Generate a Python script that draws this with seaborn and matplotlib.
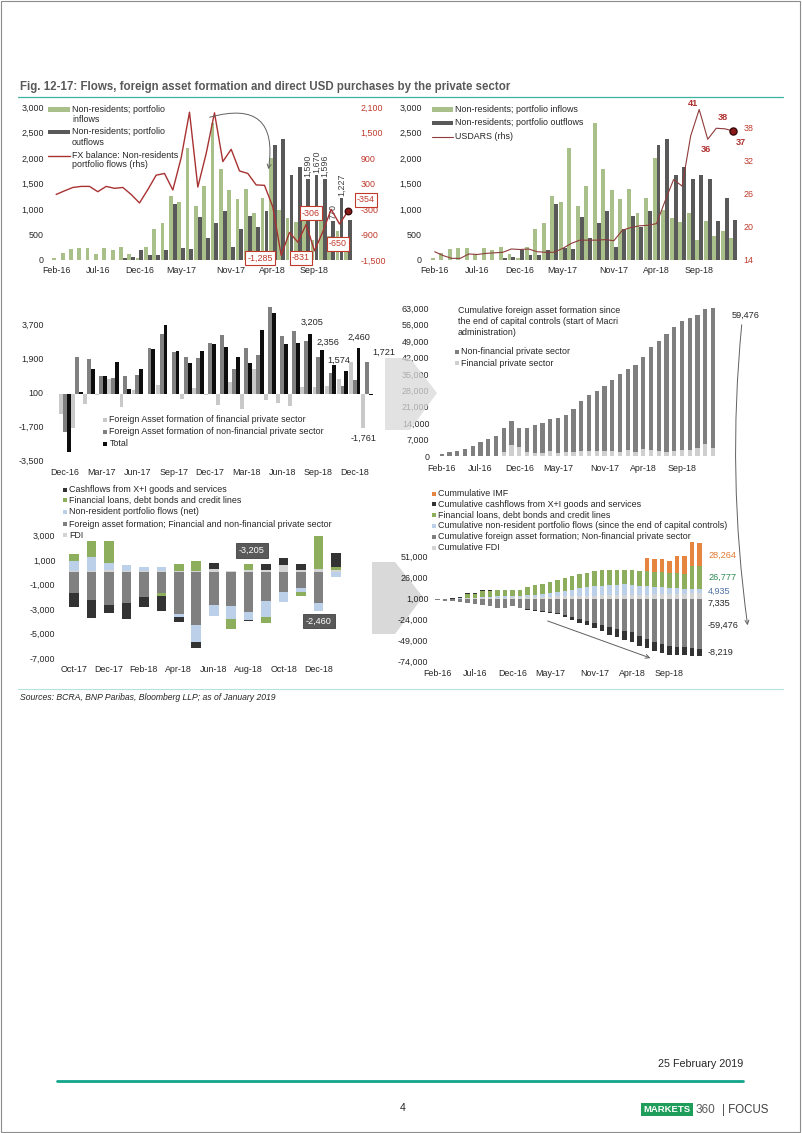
import matplotlib
matplotlib.use("Agg")
import matplotlib.pyplot as plt
import seaborn as sns
import pandas as pd
from matplotlib.patches import Rectangle, Polygon, FancyArrowPatch
from matplotlib.lines import Line2D

# -------------------------------
# DATA
# -------------------------------
months = ["Feb-16", "Mar-16", "Apr-16", "May-16", "Jun-16", "Jul-16", "Aug-16", "Sep-16",
          "Oct-16", "Nov-16", "Dec-16", "Jan-17", "Feb-17", "Mar-17", "Apr-17", "May-17",
          "Jun-17", "Jul-17", "Aug-17", "Sep-17", "Oct-17", "Nov-17", "Dec-17", "Jan-18",
          "Feb-18", "Mar-18", "Apr-18", "May-18", "Jun-18", "Jul-18", "Aug-18", "Sep-18",
          "Oct-18", "Nov-18", "Dec-18", "Jan-19"]
month_ticks = ["Feb-16", "Jul-16", "Dec-16", "May-17", "Nov-17", "Apr-18", "Sep-18"]

inflows = [45, 130, 210, 235, 235, 110, 235, 190, 255, 110, 40, 260, 600, 730, 1250, 1140,
           2200, 1070, 1450, 2690, 1780, 1370, 1200, 1400, 920, 1220, 2000, 980, 820, 750,
           930, 385, 765, 464, 577, 436]
outflows = [0, 0, 0, 0, 0, 0, 0, 0, 45, 65, 195, 100, 100, 190, 1100, 230,
            215, 850, 440, 720, 960, 260, 600, 860, 650, 960, 2250, 2370, 1670, 1830,
            1590, 1670, 1596, 770, 1227, 790]
fx_balance = [45, 130, 210, 235, 235, 110, 235, 190, 210, 45, -155, 160, 500, 540, 150, 910,
              1985, 220, 1010, 1970, 820, 1110, 600, 540, 270, 260, -250, -1390, -850, -1080,
              -660, -1285, -831, -306, -650, -354]
usdars = [15.5, 14.8, 14.3, 14.3, 15.1, 15.0, 15.2, 15.3, 15.4, 16.0, 15.9, 16.0, 15.5, 15.4,
          15.4, 16.1, 17.0, 17.6, 17.6, 17.6, 17.7, 17.5, 19.4, 19.9, 20.2, 20.3, 20.6, 24.7,
          28.6, 27.4, 36.5, 41.3, 35.9, 37.9, 37.8, 37.4]

fa_months = months[10:]
fa_ticks = ["Dec-16", "Mar-17", "Jun-17", "Sep-17", "Dec-17", "Mar-18", "Jun-18", "Sep-18", "Dec-18"]
fa_fin = [-1030, -1790, -530, -30, 830, -680, 250, 0, 500, 0, -250, 330, -50, -550, 630,
          -780, 1350, -290, -430, -600, 380, 380, 420, 800, 1690, -1761]
fa_nonfin = [-1965, 1970, 1865, 980, 860, 980, 1030, 2450, 3190, 2240, 1970, 1920, 2710, 3120,
             1330, 2450, 2060, 4620, 3100, 3330, 2825, 1976, 1154, 450, 770, 1721]
fa_total = [-3060, 130, 1335, 950, 1690, 300, 1350, 2410, 3650, 2290, 1650, 2270, 2640, 2500,
            1960, 1670, 3420, 4300, 2670, 2730, 3205, 2356, 1574, 1250, 2460, -40]

cum_nonfin = [700, 1850, 2300, 3000, 4400, 6000, 7300, 8400, 9900, 10200, 8200, 10100, 12000,
              12950, 13800, 14800, 15800, 18300, 21450, 23700, 25650, 27600, 30300, 33400,
              34750, 37200, 39250, 43900, 47000, 50300, 53150, 55100, 56250, 56700, 57500, 59476]
cum_fin = [0, 0, 0, 0, 0, 0, 0, 0, 1900, 4700, 3650, 1900, 1350, 1300, 2150, 1450, 1700, 1700,
           2200, 2200, 1950, 2300, 2250, 1700, 2350, 1550, 2900, 2600, 2200, 1600, 1950, 2350,
           2750, 3550, 5250, 3500]

e_months = months[20:]
e_ticks = ["Oct-17", "Dec-17", "Feb-18", "Apr-18", "Jun-18", "Aug-18", "Oct-18", "Dec-18"]
e_fdi = [80, 155, 200, 100, 150, 160, 100, 100, 300, 100, 200, 200, 580, 170, 250, 170]
e_faf = [-1650, -2270, -2640, -2500, -1960, -1670, -3420, -4300, -2670, -2730, -3205, -2356,
         -1574, -1250, -2460, 40]
e_nonres = [820, 1110, 600, 540, 270, 260, -250, -1390, -850, -1080, -660, -1285, -831, -306,
            -650, -354]
e_loans = [640, 1275, 1740, 0, 0, -250, 620, 800, 0, -840, 520, -460, 0, -350, 2780, 250]
e_cash = [-1200, -1440, -640, -1270, -850, -1200, -370, -480, 500, 0, -100, 520, 630, 550, 0, 1100]

f_fdi = [200, 400, 600, 800, 1000, 1200, 1450, 1650, 1850, 2050, 2250, 2450, 2650, 2850, 3050,
         3300, 3550, 3800, 4050, 4320, 4400, 4555, 4755, 4855, 5005, 5165, 5265, 5365, 5665,
         5765, 5965, 6165, 6745, 6915, 7165, 7335]
f_faf = [-700, -1850, -2300, -3000, -4400, -6000, -7300, -8400, -9900, -10200, -8200, -10100,
         -12000, -12950, -13800, -14800, -15800, -18300, -21450, -23700, -25650, -27600, -30300,
         -33400, -34750, -37200, -39250, -43900, -47000, -50300, -53150, -55100, -56250, -56700,
         -57500, -59476]
f_nonres = [45, 175, 385, 620, 855, 965, 1200, 1390, 1600, 1645, 1490, 1650, 2150, 2690, 2840,
            3750, 5735, 5955, 6965, 8935, 9755, 10865, 11465, 12005, 12275, 12535, 12285, 10895,
            10045, 8965, 8305, 7020, 6189, 5883, 5233, 4935]
f_loans = [0, 0, 0, 0, 3945, 4435, 7350, 7260, 7350, 7105, 7260, 6900, 9300, 10960, 12210, 13350,
           13915, 15445, 16185, 16300, 17045, 17680, 18080, 17840, 17420, 17400, 16750, 16840,
           17890, 18070, 18530, 17615, 18170, 17500, 27038, 26777]
f_cash = [100, 300, 600, 900, 1500, 1500, 1000, 700, 400, 200, 0, -100, -400, -800, -1100, -1500,
          -2000, -2600, -3300, -3970, -5170, -6610, -7250, -8520, -9370, -10570, -10940, -11420,
          -10920, -10920, -11020, -10500, -9870, -9320, -9320, -8219]
f_imf = [0, 0, 0, 0, 0, 0, 0, 0, 0, 0, 0, 0, 0, 0, 0, 0, 0, 0, 0, 0, 0, 0, 0, 0, 0, 0, 0, 0,
         15000, 15000, 15000, 15000, 20700, 20700, 28264, 28264]

# colours
GREEN_BAR = "#a9c08b"
DARK_BAR = "#595959"
FX_RED = "#a83232"
AX_RED = "#c0392b"
USD_LINE = "#8e3b3b"
TXT = "#262626"
C_FIN, C_NONFIN, C_TOTAL = "#c9c9c9", "#808080", "#0d0d0d"
CASH, LOANS, NONRES, FAF, FDI, IMF = "#333333", "#8cae5d", "#bcd0ea", "#808080", "#d4d4d4", "#e68540"
FS = 6.4

# -------------------------------
# PAGE SETUP
# -------------------------------
sns.set_theme(style="white")
plt.rcParams["font.family"] = ["Liberation Sans", "DejaVu Sans"]

W, H = 802, 1133
fig = plt.figure(figsize=(W / 100, H / 100), dpi=100)
fig.patch.set_facecolor("white")


def add_panel(x0, x1, y0, y1):
    ax = fig.add_axes([x0 / W, 1 - y1 / H, (x1 - x0) / W, (y1 - y0) / H])
    ax.set_facecolor("none")
    return ax


def ftext(x, y, s, **kw):
    kw.setdefault("fontsize", FS)
    kw.setdefault("va", "center")
    kw.setdefault("color", TXT)
    return fig.text(x / W, 1 - y / H, s, **kw)


def fbox(x0, y0, x1, y1, color, **kw):
    fig.patches.append(Rectangle((x0 / W, 1 - y1 / H), (x1 - x0) / W, (y1 - y0) / H,
                                 transform=fig.transFigure, facecolor=color,
                                 edgecolor="none", **kw))


def fline(x0, y0, x1, y1, color, lw=0.8, **kw):
    fig.lines.append(Line2D([x0 / W, x1 / W], [1 - y0 / H, 1 - y1 / H],
                            transform=fig.transFigure, color=color, lw=lw, **kw))


def farrow(x0, y0, x1, y1, rad=0.0, color="#606060", lw=0.7):
    fig.patches.append(FancyArrowPatch((x0 / W, 1 - y0 / H), (x1 / W, 1 - y1 / H),
                                       transform=fig.transFigure, arrowstyle="->",
                                       connectionstyle=f"arc3,rad={rad}", mutation_scale=7,
                                       color=color, lw=lw))


def style_axis(ax, xpad=4, ypad=5):
    sns.despine(ax=ax, left=True, bottom=True, right=True, top=True)
    ax.tick_params(axis="both", length=0, labelsize=FS, colors=TXT)
    ax.tick_params(axis="x", pad=xpad)
    ax.tick_params(axis="y", pad=ypad)
    ax.set_xlabel("")
    ax.set_ylabel("")


def fmt(v):
    return f"{v:,}"


def stacked(ax, series, colors, width):
    n = len(series[0])
    pos = [0] * n
    neg = [0] * n
    for vals, col in zip(series, colors):
        bottoms = [pos[i] if v >= 0 else neg[i] for i, v in enumerate(vals)]
        ax.bar(range(n), vals, bottom=bottoms, width=width, color=col, linewidth=0)
        for i, v in enumerate(vals):
            if v >= 0:
                pos[i] += v
            else:
                neg[i] += v


tick_idx = [months.index(m) for m in month_ticks]
flows = pd.DataFrame({"month": months * 2, "value": inflows + outflows,
                      "flow": ["in"] * len(months) + ["out"] * len(months)})

# -------------------------------
# PANEL A - flows + FX balance
# -------------------------------
ax = add_panel(52, 352, 107.3, 260)
sns.barplot(data=flows, x="month", y="value", hue="flow", order=months, hue_order=["in", "out"],
            palette={"in": GREEN_BAR, "out": DARK_BAR}, width=0.92, saturation=1,
            errorbar=None, legend=False, linewidth=0, ax=ax)
ax.set_xlim(-0.5, 35.5)
ax.set_ylim(0, 3000)
ax.set_yticks(range(0, 3001, 500))
ax.set_yticklabels([fmt(v) for v in range(0, 3001, 500)])
ax.set_xticks(tick_idx)
ax.set_xticklabels(month_ticks)
style_axis(ax, xpad=4, ypad=6)
for i in [30, 31, 32, 33, 34]:
    ax.text(i + 0.23, outflows[i] + 40, fmt(outflows[i]), rotation=90, ha="center",
            va="bottom", fontsize=FS, color="#404040")

ax2 = ax.twinx()
ax2.set_facecolor("none")
ax2.plot(range(len(months)), fx_balance, color=FX_RED, lw=1.0)
ax2.scatter([35], [fx_balance[-1]], s=22, color="#8b1a1a", edgecolors="#3a0a0a", zorder=5)
ax2.set_ylim(-1500, 2100)
ax2.set_yticks(range(-1500, 2101, 600))
ax2.set_yticklabels([fmt(v) for v in range(-1500, 2101, 600)])
style_axis(ax2, ypad=6)
ax2.tick_params(axis="y", colors=AX_RED)

fbox(48.3, 107.3, 70, 111.7, GREEN_BAR)
ftext(72, 109.3, "Non-residents; portfolio")
ftext(72, 119.3, "inflows")
fbox(48.3, 130.3, 70, 134.3, DARK_BAR)
ftext(72, 132, "Non-residents; portfolio")
ftext(72, 142.7, "outflows")
fline(48.3, 155.7, 70, 155.7, FX_RED, lw=1.0)
ftext(72, 155.7, "FX balance: Non-residents")
ftext(72, 165, "portfolio flows (rhs)")

for x, y, s in [(260, 258, "-1,285"), (301, 258, "-831"), (311, 213, "-306"),
                (338, 244, "-650"), (366, 200, "-354")]:
    ftext(x, y, s, ha="center", color=AX_RED,
          bbox=dict(boxstyle="square,pad=0.25", facecolor="white", edgecolor=AX_RED, lw=0.8))
farrow(207, 118, 268, 172, rad=-0.8)

# -------------------------------
# PANEL B - flows + USDARS
# -------------------------------
ax = add_panel(430.4, 737.6, 107.3, 260)
sns.barplot(data=flows, x="month", y="value", hue="flow", order=months, hue_order=["in", "out"],
            palette={"in": GREEN_BAR, "out": DARK_BAR}, width=0.92, saturation=1,
            errorbar=None, legend=False, linewidth=0, ax=ax)
ax.set_xlim(-0.5, 35.5)
ax.set_ylim(0, 3000)
ax.set_yticks(range(0, 3001, 500))
ax.set_yticklabels([fmt(v) for v in range(0, 3001, 500)])
ax.set_xticks(tick_idx)
ax.set_xticklabels(month_ticks)
style_axis(ax, xpad=4, ypad=6)

ax2 = ax.twinx()
ax2.set_facecolor("none")
ax2.plot(range(len(months)), usdars, color=USD_LINE, lw=0.8)
ax2.scatter([35], [usdars[-1]], s=26, color="#8b1a1a", edgecolors="#3a0a0a", zorder=5)
ax2.set_ylim(14, 41.7)
ax2.set_yticks([14, 20, 26, 32, 38])
style_axis(ax2, ypad=4)
ax2.tick_params(axis="y", colors=AX_RED)

fbox(431.7, 107.3, 453.3, 111.7, GREEN_BAR)
ftext(455, 109.5, "Non-residents; portfolio inflows")
fbox(431.7, 120.7, 453.3, 124.7, DARK_BAR)
ftext(455, 122.7, "Non-residents; portfolio outflows")
fline(431.7, 136.7, 453.3, 136.7, USD_LINE, lw=0.8)
ftext(455, 136.7, "USDARS (rhs)")
for x, y, s in [(693, 104, "41"), (723, 118, "38"), (706, 149, "36"), (741, 143, "37")]:
    ftext(x, y, s, ha="center", color="#b03030", fontsize=6.6, fontweight="bold")

# -------------------------------
# PANEL C - foreign asset formation, monthly
# -------------------------------
ax = add_panel(59, 372.7, 290.2, 460.7)
fa = pd.DataFrame({"month": fa_months * 3, "value": fa_fin + fa_nonfin + fa_total,
                   "sector": ["fin"] * len(fa_months) + ["nonfin"] * len(fa_months)
                   + ["total"] * len(fa_months)})
sns.barplot(data=fa, x="month", y="value", hue="sector", order=fa_months,
            hue_order=["fin", "nonfin", "total"],
            palette={"fin": C_FIN, "nonfin": C_NONFIN, "total": C_TOTAL}, width=0.97,
            saturation=1, errorbar=None, legend=False, linewidth=0, ax=ax)
ax.set_xlim(-0.5, 25.5)
ax.set_ylim(-3500, 5500)
ax.set_yticks([-3500, -1700, 100, 1900, 3700])
ax.set_yticklabels([fmt(v) for v in [-3500, -1700, 100, 1900, 3700]])
ax.set_xticks([fa_months.index(m) for m in fa_ticks])
ax.set_xticklabels(fa_ticks)
style_axis(ax, xpad=5, ypad=11)

for x, y, s in [(311.7, 322.7, "3,205"), (327.7, 342.3, "2,356"), (338.7, 360, "1,574"),
                (359, 337.7, "2,460"), (384, 352.7, "1,721"), (364, 438.3, "-1,761")]:
    ftext(x, y, s, ha="center", fontsize=6.6)
for y, col, s in [(420, C_FIN, "Foreign Asset formation of financial private sector"),
                  (431.7, C_NONFIN, "Foreign Asset formation of non-financial private sector"),
                  (444, C_TOTAL, "Total")]:
    fbox(103.3, y - 2, 107.3, y + 2, col)
    ftext(109.5, y, s)

# -------------------------------
# PANEL D - cumulative foreign asset formation
# -------------------------------
ax = add_panel(437.8, 716.9, 308.3, 456)
stacked(ax, [cum_fin, cum_nonfin], ["#cfcfcf", "#7f7f7f"], 0.56)
ax.set_xlim(-0.5, 35.5)
ax.set_ylim(0, 63000)
ax.set_yticks(range(0, 63001, 7000))
ax.set_yticklabels([fmt(v) for v in range(0, 63001, 7000)])
ax.set_xticks(tick_idx)
ax.set_xticklabels(month_ticks)
style_axis(ax, xpad=6, ypad=6)

ftext(458, 310, "Cumulative foreign asset formation since")
ftext(458, 321, "the end of capital controls (start of Macri")
ftext(458, 332, "administration)")
fbox(455, 350, 459, 354, "#7f7f7f")
ftext(461, 352, "Non-financial private sector")
fbox(455, 361.3, 459, 365.3, "#cfcfcf")
ftext(461, 363.3, "Financial private sector")
ftext(732, 315, "59,476", fontsize=6.6)
farrow(742, 322, 748, 628, rad=0.06)

# -------------------------------
# PANEL E - monthly flows decomposition
# -------------------------------
ax = add_panel(65.3, 344.7, 535.7, 658.3)
stacked(ax, [e_fdi, e_faf, e_nonres, e_loans, e_cash], [FDI, FAF, NONRES, LOANS, CASH], 0.55)
ax.set_xlim(-0.5, 15.5)
ax.set_ylim(-7000, 3000)
ax.set_yticks(range(-7000, 3001, 2000))
ax.set_yticklabels([fmt(v) for v in range(-7000, 3001, 2000)])
ax.set_xticks([e_months.index(m) for m in e_ticks])
ax.set_xticklabels(e_ticks)
style_axis(ax, xpad=5, ypad=7)

for y, col, s in [(490, CASH, "Cashflows from X+I goods and services"),
                  (500.3, LOANS, "Financial loans, debt bonds and credit lines"),
                  (511.7, NONRES, "Non-resident portfolio flows (net)"),
                  (524, FAF, "Foreign asset formation; Financial and non-financial private sector"),
                  (535, FDI, "FDI")]:
    fbox(63.3, y - 2, 67.3, y + 2, col)
    ftext(69, y, s)
for x, y, s in [(252, 550.5, "-3,205"), (319, 621, "-2,460")]:
    ftext(x, y, s, ha="center", color="white", fontsize=6.6,
          bbox=dict(boxstyle="square,pad=0.3", facecolor="#595959", edgecolor="#404040", lw=0.6))

# -------------------------------
# PANEL F - cumulative decomposition
# -------------------------------
ax = add_panel(434, 703, 535.3, 661.7)
stacked(ax, [f_fdi, f_faf, f_nonres, f_loans, f_cash, f_imf],
        [FDI, FAF, NONRES, LOANS, CASH, IMF], 0.6)
ax.set_xlim(-0.5, 35.5)
ax.set_ylim(-74000, 76000)
ax.set_yticks(range(-74000, 51001, 25000))
ax.set_yticklabels([fmt(v) for v in range(-74000, 51001, 25000)])
ax.set_xticks(tick_idx)
ax.set_xticklabels(month_ticks)
style_axis(ax, xpad=5, ypad=4)

for y, col, s in [(494, IMF, "Cummulative IMF"),
                  (504.3, CASH, "Cumulative cashflows from X+I goods and services"),
                  (515, LOANS, "Financial loans, debt bonds and credit lines"),
                  (525.7, NONRES, "Cumulative non-resident portfolio flows (since the end of capital controls)"),
                  (536.7, FAF, "Cumulative foreign asset formation; Non-financial private sector"),
                  (547.7, FDI, "Cumulative FDI")]:
    fbox(432.3, y - 2, 435.7, y + 2, col)
    ftext(437.5, y, s)
for y, col, s in [(555, "#e0782f", "28,264"), (577.3, "#2f8a55", "26,777"),
                  (591, "#5072a8", "4,935"), (603.3, TXT, "7,335"),
                  (625, TXT, "-59,476"), (652.7, TXT, "-8,219")]:
    ftext(708, y, s, color=col, fontsize=6.6)
farrow(545, 620, 653, 659, rad=0.0)

# -------------------------------
# DECORATIVE ARROWS, HEADER, FOOTER
# -------------------------------
fig.patches.append(Polygon([(385 / W, 1 - 358 / H), (410 / W, 1 - 358 / H), (437 / W, 1 - 393 / H),
                            (410 / W, 1 - 430 / H), (385 / W, 1 - 430 / H)], closed=True,
                           transform=fig.transFigure, facecolor="#d9d9d9", edgecolor="none",
                           alpha=0.75, zorder=3))
fig.patches.append(Polygon([(372 / W, 1 - 562 / H), (395 / W, 1 - 562 / H), (423 / W, 1 - 597 / H),
                            (395 / W, 1 - 634 / H), (372 / W, 1 - 634 / H)], closed=True,
                           transform=fig.transFigure, facecolor="#d9d9d9", edgecolor="none",
                           zorder=-1))

ftext(20, 87, "Fig. 12-17: Flows, foreign asset formation and direct USD purchases by the private sector",
      fontsize=8.3, fontweight="bold", color="#595959")
fline(18, 96.7, 783, 96.7, "#3cb4a0", lw=0.9)
fline(18, 689, 783, 689, "#b5e2da", lw=0.8)
ftext(20, 698, "Sources: BCRA, BNP Paribas, Bloomberg LLP; as of January 2019", fontsize=6.2,
      style="italic")

ftext(743, 1064, "25 February 2019", fontsize=7.75, ha="right")
fline(57, 1081, 743, 1081, "#12a58c", lw=2.0)
ftext(403, 1108, "4", fontsize=7.5, ha="center")
fbox(641, 1103.3, 692.7, 1116, "#1e9e5a")
ftext(666.8, 1110, "MARKETS", fontsize=6.8, fontweight="bold", color="white", ha="center")
ftext(695.5, 1110, "360", fontsize=8.5, color="#595959")
ftext(722, 1110, "| FOCUS", fontsize=8.3, color="#404040")

fig.patches.append(Rectangle((1 / W, 1 / H), 799 / W, 1 - 2 / H, transform=fig.transFigure,
                             facecolor="none", edgecolor="#8c8c8c", lw=0.8))

fig.savefig("out.png", dpi=100)
